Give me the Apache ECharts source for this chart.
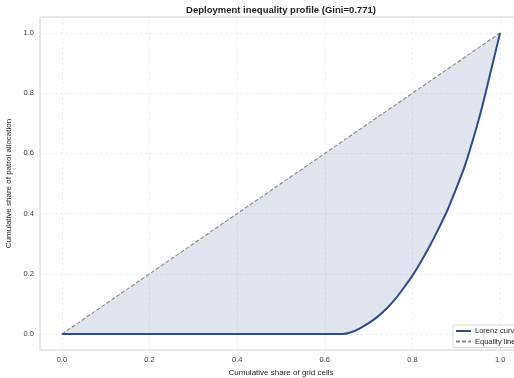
<!DOCTYPE html>
<html><head><meta charset="utf-8">
<script src="https://cdn.jsdelivr.net/npm/echarts@6/dist/echarts.min.js"></script>
<style>html,body{margin:0;padding:0;background:#fff}#c{width:514px;height:378px}</style>
</head><body><div id="c"></div>
<script>
var titleText = 'Deployment inequality profile (Gini=0.771)';
var xName = 'Cumulative share of grid cells';
var yName = 'Cumulative share of patrol allocation';
var tickValues = [0, 0.2, 0.4, 0.6, 0.8, 1.0];
var shareCells = [0, 0.1, 0.2, 0.3, 0.4, 0.5, 0.6, 0.64, 0.66, 0.68, 0.70, 0.72, 0.74, 0.76, 0.78, 0.80, 0.82, 0.84, 0.86, 0.88, 0.90, 0.92, 0.94, 0.96, 0.98, 1.0];
var lorenz = [0, 0, 0, 0, 0, 0, 0, 0, 0.006, 0.019, 0.036, 0.057, 0.083, 0.115, 0.153, 0.194, 0.242, 0.294, 0.351, 0.412, 0.484, 0.560, 0.655, 0.760, 0.880, 1.0];
var equalityX = [0, 1];
var equalityY = [0, 1];

var font = 'Liberation Sans, Arial, sans-serif';
var lineColor = '#2f4b8c';
var lorenzData = shareCells.map(function (x, i) { return [x, lorenz[i]]; });
var equalityData = equalityX.map(function (x, i) { return [x, equalityY[i]]; });

var chart = echarts.init(document.getElementById('c'), null, {renderer: 'canvas'});
chart.setOption({
  animation: false,
  backgroundColor: '#fff',
  textStyle: {fontFamily: font},
  title: {
    text: titleText, left: 281, top: 5, padding: 0, textAlign: 'center',
    textStyle: {fontSize: 9.5, fontWeight: 'bold', color: '#222', fontFamily: font}
  },
  grid: {left: 40, top: 17, right: -8, bottom: 28, containLabel: false, outerBoundsMode: 'none',
    show: true, borderColor: '#d0d0d0', borderWidth: 1, backgroundColor: 'transparent'},
  legend: {
    data: ['Lorenz curve', 'Equality line'],
    orient: 'vertical', left: 453, top: 325,
    itemWidth: 15, itemHeight: 7, itemGap: 2.5,
    padding: [2, 4, 2, 2],
    borderColor: '#d8d8d8', borderWidth: 1, backgroundColor: '#fff', borderRadius: 2,
    itemStyle: {opacity: 0},
    textStyle: {fontSize: 7.5, color: '#222', fontFamily: font, padding: [0, 0, 0, -1]}
  },
  xAxis: {
    type: 'value', min: -0.05, max: 1.05,
    name: xName, nameLocation: 'middle', nameGap: 17,
    nameTextStyle: {fontSize: 8, color: '#222', fontFamily: font},
    axisLine: {show: false}, axisTick: {show: false, customValues: tickValues},
    axisLabel: {customValues: tickValues, fontSize: 7.5, color: '#3a3a3a', margin: 6, fontFamily: font,
      formatter: function (v) { return v.toFixed(1); }},
    splitLine: {show: true, lineStyle: {color: '#ececec', type: [3, 2], width: 0.8}}
  },
  yAxis: {
    type: 'value', min: -0.053, max: 1.053,
    name: yName, nameLocation: 'middle', nameGap: 20, nameRotate: 90,
    nameTextStyle: {fontSize: 8, color: '#222', fontFamily: font},
    axisLine: {show: false}, axisTick: {show: false, customValues: tickValues},
    axisLabel: {customValues: tickValues, fontSize: 7.5, color: '#3a3a3a', margin: 6, fontFamily: font,
      formatter: function (v) { return v.toFixed(1); }},
    splitLine: {show: true, lineStyle: {color: '#ececec', type: [3, 2], width: 0.8}}
  },
  series: [
    {
      name: 'Gap', type: 'custom', data: [[0, 0]], silent: true, z: 1,
      renderItem: function (params, api) {
        var pts = [];
        for (var i = 0; i < equalityData.length; i++) pts.push(api.coord(equalityData[i]));
        for (var j = lorenzData.length - 1; j >= 0; j--) pts.push(api.coord(lorenzData[j]));
        return {type: 'polygon', shape: {points: pts}, style: {fill: 'rgba(47,75,140,0.15)', stroke: null}};
      }
    },
    {
      name: 'Equality line', type: 'line', data: equalityData, symbol: 'none',
      lineStyle: {color: '#888888', width: 1.1, type: [4, 2]}, itemStyle: {color: '#888888'}, z: 3
    },
    {
      name: 'Lorenz curve', type: 'line', data: lorenzData, symbol: 'none',
      smooth: 0.25,
      lineStyle: {color: lineColor, width: 2}, itemStyle: {color: lineColor}, z: 4
    }
  ]
});
</script></body></html>
